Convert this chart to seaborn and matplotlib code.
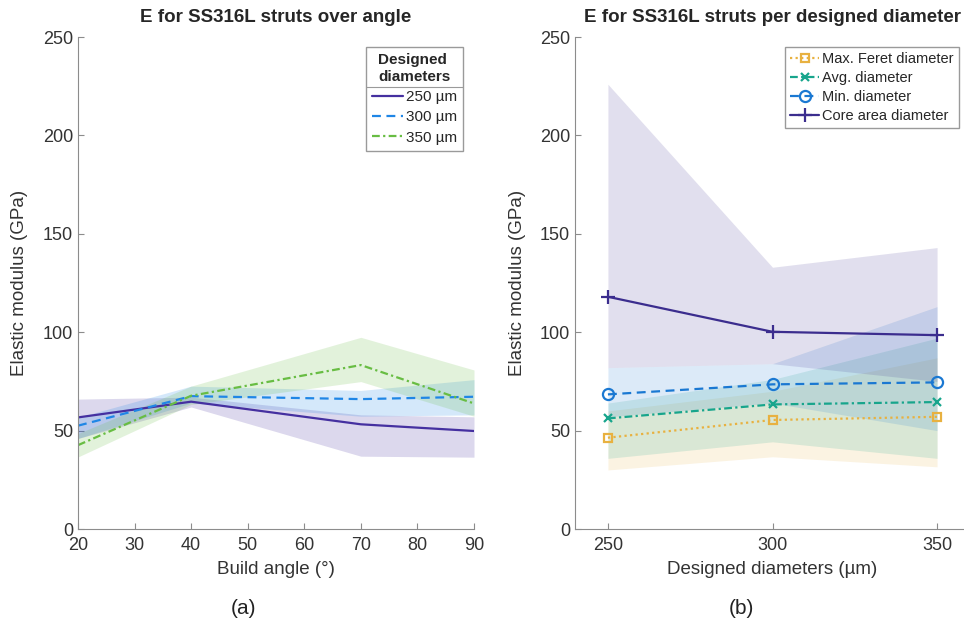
import numpy as np
import pandas as pd
import matplotlib
matplotlib.use("Agg")
import matplotlib.pyplot as plt
from matplotlib.lines import Line2D
import seaborn as sns

# --- data ---
angles = [20, 40, 70, 90]
e250 = [56.7, 64.7, 53.2, 49.8]
e250_lo = [46.0, 62.0, 37.0, 36.5]
e250_hi = [66.0, 67.0, 58.0, 57.0]
e300 = [52.5, 67.5, 66.0, 67.2]
e300_lo = [46.0, 64.0, 57.3, 58.0]
e300_hi = [56.7, 72.6, 70.4, 75.9]
e350 = [42.6, 67.7, 83.3, 63.8]
e350_lo = [36.6, 63.3, 74.9, 57.3]
e350_hi = [48.5, 72.6, 97.4, 80.8]

diameters = [250, 300, 350]
feret = [46.4, 55.4, 57.0]
feret_lo = [30.0, 36.7, 31.6]
feret_hi = [60.0, 70.0, 87.0]
avg = [56.2, 63.3, 64.5]
avg_lo = [35.9, 44.3, 35.9]
avg_hi = [64.0, 76.0, 97.0]
mind = [68.4, 73.5, 74.5]
mind_lo = [57.0, 64.0, 50.0]
mind_hi = [82.0, 84.0, 113.0]
core = [118.0, 100.2, 98.5]
core_lo = [82.0, 84.0, 75.0]
core_hi = [226.0, 133.0, 143.0]

sns.set_style("ticks")
plt.rcParams['font.family'] = ['Liberation Sans', 'DejaVu Sans']
plt.rcParams['axes.edgecolor'] = '#8c8c8c'
plt.rcParams['xtick.color'] = '#8c8c8c'
plt.rcParams['ytick.color'] = '#8c8c8c'
plt.rcParams['xtick.labelcolor'] = '#333333'
plt.rcParams['ytick.labelcolor'] = '#333333'
plt.rcParams['xtick.direction'] = 'in'
plt.rcParams['ytick.direction'] = 'in'

fig = plt.figure(figsize=(9.64, 6.28), dpi=100)
W, H = 964, 628
ax1 = fig.add_axes([78 / W, 1 - 529 / H, 396 / W, 492 / H])
ax2 = fig.add_axes([575 / W, 1 - 529 / H, 395 / W, 492 / H])

# (a) E over build angle
left_series = [
    ("250 µm", e250, e250_lo, e250_hi, "#4530a0", "-"),
    ("300 µm", e300, e300_lo, e300_hi, "#1f86e6", (0, (4, 2.5))),
    ("350 µm", e350, e350_lo, e350_hi, "#68bd43", (0, (3.5, 1.5, 1, 1.5))),
]
for name, y, lo, hi, col, ls in left_series:
    ax1.fill_between(angles, lo, hi, color=col, alpha=0.19, linewidth=0)
for name, y, lo, hi, col, ls in left_series:
    sns.lineplot(x=angles, y=y, ax=ax1, color=col, linestyle=ls, linewidth=1.6, label=name)

ax1.set_xlim(20, 90)
ax1.set_ylim(0, 250)
ax1.set_xticks(range(20, 91, 10))
ax1.set_yticks(range(0, 251, 50))
ax1.set_title("E for SS316L struts over angle", fontsize=13.5, fontweight='bold', pad=11)
ax1.set_xlabel("Build angle (°)", fontsize=13.5, color='#333333')
ax1.set_ylabel("Elastic modulus (GPa)", fontsize=13.5, color='#333333')

leg1 = ax1.legend(loc='upper right', bbox_to_anchor=(0.972, 0.98), fontsize=11,
                  title="Designed\ndiameters", title_fontproperties={'weight': 'bold', 'size': 11},
                  fancybox=False, edgecolor='#9a9a9a', framealpha=1, handlelength=2.0,
                  handletextpad=0.2, borderpad=0.4, labelspacing=0.4, borderaxespad=0)
leg1.get_title().set_linespacing(1.3)

# (b) E per designed diameter
right_series = [
    ("Max. Feret diameter", feret, feret_lo, feret_hi, "#e8b140", (0, (1, 1.5)), "s", 6),
    ("Avg. diameter", avg, avg_lo, avg_hi, "#17a58c", (0, (3.5, 1.5, 1, 1.5)), "x", 5.5),
    ("Min. diameter", mind, mind_lo, mind_hi, "#1a78d2", (0, (4, 2.5)), "o", 8),
    ("Core area diameter", core, core_lo, core_hi, "#3b2d8e", "-", "+", 10),
]
for name, y, lo, hi, col, ls, mk, ms in right_series:
    ax2.fill_between(diameters, lo, hi, color=col, alpha=0.15, linewidth=0)
for name, y, lo, hi, col, ls, mk, ms in right_series:
    sns.lineplot(x=diameters, y=y, ax=ax2, color=col, linestyle=ls, linewidth=1.6,
                 marker=mk, markersize=ms, markerfacecolor='none', markeredgecolor=col,
                 markeredgewidth=1.6, label=name)

ax2.set_xlim(240, 360)
ax2.set_ylim(0, 250)
ax2.set_xticks(diameters)
ax2.set_yticks(range(0, 251, 50))
ax2.set_title("E for SS316L struts per designed diameter", fontsize=13.5, fontweight='bold', pad=11)
ax2.set_xlabel("Designed diameters (µm)", fontsize=13.5, color='#333333')
ax2.set_ylabel("Elastic modulus (GPa)", fontsize=13.5, color='#333333')

leg2 = ax2.legend(loc='upper right', bbox_to_anchor=(0.972, 0.98), fontsize=10.5,
                  fancybox=False, edgecolor='#9a9a9a', framealpha=1, handlelength=2.0,
                  handletextpad=0.2, borderpad=0.35, labelspacing=0.35, borderaxespad=0)

for ax in (ax1, ax2):
    sns.despine(ax=ax)
    ax.tick_params(labelsize=13, length=4, width=0.8)
    ax.tick_params(axis='x', pad=6)
    ax.yaxis.set_label_coords(-0.125, 0.5)
    ax.xaxis.labelpad = 5

fig.text(244 / W, 1 - 608 / H, "(a)", ha='center', va='center', fontsize=15, color='#222222')
fig.text(741 / W, 1 - 608 / H, "(b)", ha='center', va='center', fontsize=15, color='#222222')

# separator line under the legend title (MATLAB style)
fig.canvas.draw()
r = fig.canvas.get_renderer()
tb = leg1.get_title().get_window_extent(r)
fb = leg1.get_frame().get_window_extent(r)
ysep = tb.y0 - 3
fig.add_artist(Line2D([fb.x0 / W, fb.x1 / W], [ysep / H, ysep / H],
                      transform=fig.transFigure, color='#9a9a9a', linewidth=0.8))

fig.savefig("out.png", dpi=100)
